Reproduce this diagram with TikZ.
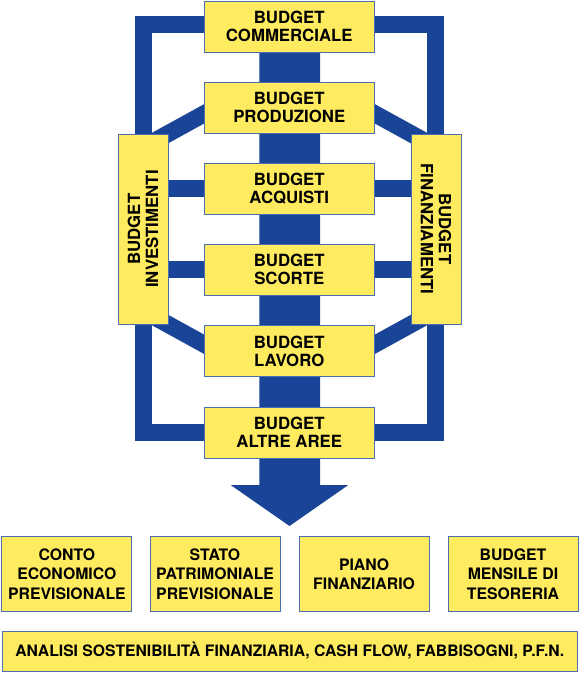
\documentclass[tikz,border=0pt]{standalone}
\usepackage{fontspec}
\setmainfont{TeX Gyre Heros}
\usetikzlibrary{backgrounds}
\definecolor{bandblue}{HTML}{1A4497}
\definecolor{boxyellow}{HTML}{FFEB5F}
\definecolor{boxline}{HTML}{4A6DB3}
\tikzset{
  box/.style={draw=boxline, line width=0.9pt, fill=boxyellow, align=center, inner sep=0pt,
    text=black, font=\fontsize{16.8}{18}\selectfont\bfseries},
  midbox/.style={box, minimum width=169.5pt, minimum height=51pt},
  sidebox/.style={box, minimum width=190pt, minimum height=50pt},
  outbox/.style={box, minimum width=130pt, minimum height=75pt, font=\fontsize{15.8}{19.3}\selectfont\bfseries},
  band/.style={draw=bandblue, line width=17pt, line join=miter, line cap=butt},
}
\begin{document}
\begin{tikzpicture}[x=1pt,y=-1pt]
\useasboundingbox (0,0) rectangle (580,673);
% central boxes
\node[midbox] (comm) at (289.25,26.5) {BUDGET\\COMMERCIALE};
\node[midbox] (prod) at (289.25,107.5) {BUDGET\\PRODUZIONE};
\node[midbox] (acq) at (289.25,188.5) {BUDGET\\ACQUISTI};
\node[midbox] (scor) at (289.25,269.5) {BUDGET\\SCORTE};
\node[midbox] (lav) at (289.25,351) {BUDGET\\LAVORO};
\node[midbox] (altre) at (289.25,432.5) {BUDGET\\ALTRE AREE};
% side boxes
\node[sidebox, rotate=90] (inv) at (143,229) {BUDGET\\INVESTIMENTI};
\node[sidebox, rotate=-90] (fin) at (436,229) {BUDGET\\FINANZIAMENTI};
% output boxes
\node[outbox] (ce) at (66.9,574.2) {CONTO\\ECONOMICO\\PREVISIONALE};
\node[outbox] (sp) at (215,574.2) {STATO\\PATRIMONIALE\\PREVISIONALE};
\node[outbox] (pf) at (364.1,574.2) {PIANO\\FINANZIARIO};
\node[outbox] (bt) at (513,574.2) {BUDGET\\MENSILE DI\\TESORERIA};
\node[box, minimum width=575.7pt, minimum height=40pt, font=\fontsize{15.7}{18}\selectfont\bfseries] (an) at (289.85,651)
  {ANALISI SOSTENIBILITÀ FINANZIARIA, CASH FLOW, FABBISOGNI, P.F.N.};
\begin{scope}[on background layer]
  % central bar with arrow
  \fill[bandblue] (259.3,40) -- (320,40) -- (320,485) -- (348.3,485) -- (289.5,526)
    -- (230.7,485) -- (259.3,485) -- cycle;
  % outer frame
  \draw[band] ([xshift=10pt]comm.west |- 0,24.5) -- (143.5,24.5) -- (143.5,432) -- ([xshift=10pt]altre.west |- 0,432);
  \draw[band] ([xshift=-10pt]comm.east |- 0,24.5) -- (435.5,24.5) -- (435.5,432) -- ([xshift=-10pt]altre.east |- 0,432);
  % diagonals
  \draw[band] (230,99.6) -- (140,149.1);
  \draw[band] (349,99.6) -- (439,149.1);
  \draw[band] (230,358.5) -- (140,309);
  \draw[band] (349,358.5) -- (439,309);
  % horizontal links
  \draw[band] (inv.center |- acq.west) -- (acq.center);
  \draw[band] (fin.center |- acq.east) -- (acq.center);
  \draw[band] (inv.center |- scor.west) -- (scor.center);
  \draw[band] (fin.center |- scor.east) -- (scor.center);
\end{scope}
\end{tikzpicture}
\end{document}
